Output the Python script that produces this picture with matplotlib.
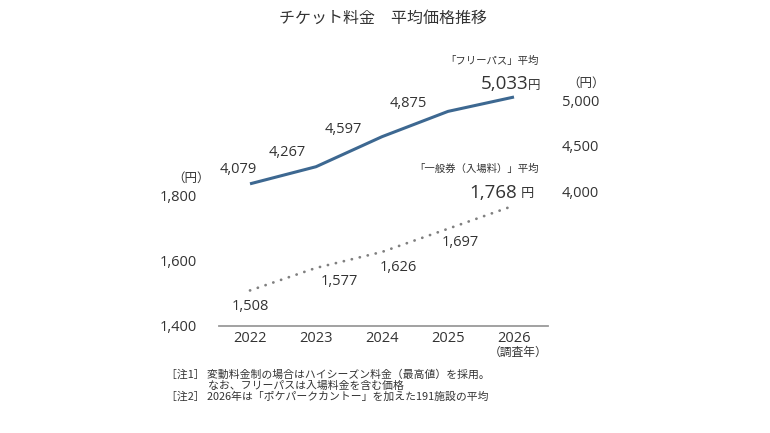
"""チケット料金 平均価格推移 - dual axis line chart."""
import matplotlib

matplotlib.use("Agg")
import matplotlib.pyplot as plt
from matplotlib.ticker import FuncFormatter

plt.rcParams["font.family"] = ["Noto Sans CJK JP", "DejaVu Sans"]
NUM_FONT = ["Open Sans", "Noto Sans CJK JP"]

# --------------------------------------------------------------------------- #
# Data
# --------------------------------------------------------------------------- #
years = ["2022", "2023", "2024", "2025", "2026"]
free_pass = [4079, 4267, 4597, 4875, 5033]
general = [1508, 1577, 1626, 1697, 1768]

left_ticks = [1400, 1600, 1800]
right_ticks = [4000, 4500, 5000]

title = "チケット料金　平均価格推移"
free_label = "「フリーパス」平均"
general_label = "「一般券（入場料）」平均"
notes = [
    "［注1］ 変動料金制の場合はハイシーズン料金（最高値）を採用。",
    "　　　    なお、フリーパスは入場料金を含む価格",
    "［注2］ 2026年は「ポケパークカントー」を加えた191施設の平均",
]

BLUE = "#3d6891"
GRAY = "#808080"
TEXT = "#333333"

# label offsets in pixels (dx, dy) relative to each point (last one handled apart)
free_offsets = [(-12, 14), (-29, 14), (-39, 7), (-40, 8)]
gen_offsets = [(0, -16), (23, -14), (16, -16), (12, -14)]

W, H = 770, 433
fig = plt.figure(figsize=(W / 100, H / 100), dpi=100)
ax = fig.add_axes([219 / W, 1 - 325.7 / H, 329 / W, (325.7 - 90) / H])
ax2 = ax.twinx()

x = list(range(len(years)))
ax.plot(x, general, color=GRAY, lw=2.0, linestyle=(0, (0.05, 2.9)),
        dash_capstyle="round", zorder=3)
ax2.plot(x, free_pass, color=BLUE, lw=2.2, solid_capstyle="butt", zorder=3)

ax.set_xlim(-0.47, 4.515)
ax.set_ylim(1400, 2122)
ax2.set_ylim(2520, 5110)

fmt = FuncFormatter(lambda v, _: f"{int(v):,}")
ax.set_yticks(left_ticks)
ax2.set_yticks(right_ticks)
ax.yaxis.set_major_formatter(fmt)
ax2.yaxis.set_major_formatter(fmt)
ax.tick_params(axis="y", length=0, pad=16, labelsize=10.5, labelcolor=TEXT)
ax2.tick_params(axis="y", length=0, pad=10, labelsize=10.5, labelcolor=TEXT)
ax.set_xticks(x)
ax.set_xticklabels(years)
ax.tick_params(axis="x", length=0, pad=4, labelsize=10.5, labelcolor=TEXT)
for lbl in ax.get_yticklabels() + ax2.get_yticklabels() + ax.get_xticklabels():
    lbl.set_family(NUM_FONT)

for a in (ax, ax2):
    for s in a.spines.values():
        s.set_visible(False)
ax.spines["bottom"].set_visible(True)
ax.spines["bottom"].set_color("#9a9a9a")
ax.spines["bottom"].set_linewidth(1.3)

PX = 0.72  # points per pixel at dpi 100

for i, (v, (dx, dy)) in enumerate(zip(free_pass[:-1], free_offsets)):
    ax2.annotate(f"{v:,}", (x[i], v), xytext=(dx * PX, dy * PX),
                 textcoords="offset points", ha="center", va="center",
                 fontsize=10.5, color=TEXT, family=NUM_FONT)
for i, (v, (dx, dy)) in enumerate(zip(general[:-1], gen_offsets)):
    ax.annotate(f"{v:,}", (x[i], v), xytext=(dx * PX, dy * PX),
                textcoords="offset points", ha="center", va="center",
                fontsize=10.5, color=TEXT, family=NUM_FONT)

# last points: big number + 円 + series label
ax2.annotate(f"{free_pass[-1]:,}", (x[-1], free_pass[-1]), xytext=(14 * PX, 13 * PX),
             textcoords="offset points", ha="right", va="center",
             fontsize=13.5, color=TEXT, family=NUM_FONT)
ax2.annotate("円", (x[-1], free_pass[-1]), xytext=(14 * PX, 12 * PX),
             textcoords="offset points", ha="left", va="center",
             fontsize=9, color=TEXT)
ax2.annotate(free_label, (x[-1], free_pass[-1]), xytext=(25 * PX, 36 * PX),
             textcoords="offset points", ha="right", va="center",
             fontsize=7.5, color=TEXT)

ax.annotate(f"{general[-1]:,}", (x[-1], general[-1]), xytext=(3 * PX, 13 * PX),
            textcoords="offset points", ha="right", va="center",
            fontsize=13.5, color=TEXT, family=NUM_FONT)
ax.annotate("円", (x[-1], general[-1]), xytext=(7 * PX, 12 * PX),
            textcoords="offset points", ha="left", va="center",
            fontsize=9.5, color=TEXT)
ax.annotate(general_label, (x[-1], general[-1]), xytext=(25 * PX, 37 * PX),
            textcoords="offset points", ha="right", va="center",
            fontsize=7.5, color=TEXT)

# axis unit labels
ax.annotate("（円）", (0, 1800), xycoords=("axes fraction", "data"),
            xytext=(-28 * PX, 17 * PX), textcoords="offset points",
            ha="center", va="center", fontsize=9, color=TEXT)
ax2.annotate("（円）", (1, 5000), xycoords=("axes fraction", "data"),
             xytext=(38 * PX, 17 * PX), textcoords="offset points",
             ha="center", va="center", fontsize=9, color=TEXT)
ax.annotate("（調査年）", (x[-1], 0), xycoords=("data", "axes fraction"),
            xytext=(4 * PX, -27 * PX), textcoords="offset points",
            ha="center", va="center", fontsize=8.5, color=TEXT)

fig.text(383 / W, 1 - 18 / H, title, ha="center", va="center",
         fontsize=11.5, color=TEXT)

for k, line in enumerate(notes):
    fig.text(166 / W, 1 - (375 + 11 * k) / H, line, ha="left", va="center",
             fontsize=7.8, color=TEXT)

fig.savefig("out.png", dpi=100)
